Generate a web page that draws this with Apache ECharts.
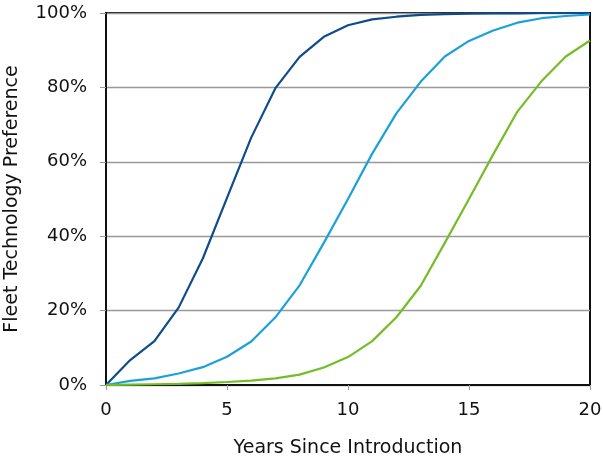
<!DOCTYPE html>
<html><head><meta charset="utf-8">
<script src="https://cdn.jsdelivr.net/npm/echarts@6/dist/echarts.min.js"></script>
<style>html,body{margin:0;padding:0;background:#fff}#c{width:603px;height:463px}</style>
</head><body><div id="c"></div>
<script>
const years = [0,1,2,3,4,5,6,7,8,9,10,11,12,13,14,15,16,17,18,19,20];
const earlyTech = [0,6.7,11.8,20.8,34,50.3,66.5,79.8,88.2,93.6,96.7,98.3,99.0,99.5,99.7,99.8,99.9,99.9,100,100,100];
const midTech = [0,1.1,1.8,3.1,4.8,7.6,11.7,18.2,26.8,38.2,50,62.2,73,81.5,88.3,92.5,95.3,97.4,98.6,99.2,99.6];
const lateTech = [0,0.1,0.2,0.3,0.5,0.8,1.2,1.8,2.8,4.7,7.5,11.8,18.2,26.6,38.2,50,62,73.5,81.7,88.3,92.6];
const yTicks = [0,20,40,60,80,100];
const colors = ['#0e4c8c','#1ba1d9','#74bd27'];

const font = '"DejaVu Sans", sans-serif';
const mk = (arr, c) => ({
  type:'line', data: years.map((x,i)=>[x,arr[i]]), showSymbol:false,
  lineStyle:{color:c,width:2.2}, itemStyle:{color:c}, z:3
});
const chart = echarts.init(document.getElementById('c'));
chart.setOption({
  animation:false,
  grid:{left:106,right:13,top:13,bottom:78,containLabel:false,outerBoundsMode:'none',
    show:true,borderColor:'#111',borderWidth:2,backgroundColor:'transparent'},
  xAxis:{type:'value',min:0,max:20,interval:5,
    name:'Years Since Introduction',nameLocation:'middle',nameGap:54,
    nameTextStyle:{fontFamily:font,fontSize:19,color:'#111'},
    axisLine:{show:true,lineStyle:{color:'#111',width:2}},
    axisTick:{show:true,length:5,lineStyle:{color:'#999'}},
    axisLabel:{fontFamily:font,fontSize:18,color:'#111',margin:16},
    splitLine:{show:false}},
  yAxis:{type:'value',min:0,max:100,interval:20,
    name:'Fleet Technology Preference',nameLocation:'middle',nameGap:84,
    nameTextStyle:{fontFamily:font,fontSize:19,color:'#111'},
    axisLine:{show:true,lineStyle:{color:'#111',width:2}},
    axisTick:{show:true,length:6,lineStyle:{color:'#999'}},
    axisLabel:{fontFamily:font,fontSize:18,color:'#111',margin:19,
      formatter:v=>yTicks.includes(v)?v+'%':''},
    splitLine:{show:true,lineStyle:{color:'#999',width:1.3}}},
  series:[mk(earlyTech,colors[0]),mk(midTech,colors[1]),mk(lateTech,colors[2])]
});
</script></body></html>
